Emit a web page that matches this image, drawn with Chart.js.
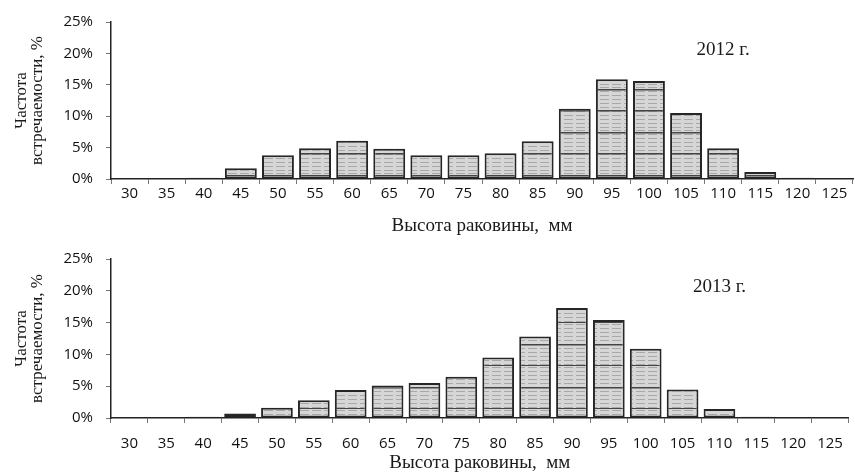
<!DOCTYPE html>
<html lang="ru">
<head>
<meta charset="utf-8">
<script src="https://cdn.jsdelivr.net/npm/chart.js@4.4.1/dist/chart.umd.min.js"></script>
<style>
  html, body { margin: 0; padding: 0; background: #fff; }
  .panel { width: 855px; height: 237px; position: relative; }
</style>
</head>
<body>
<div class="panel"><canvas id="chart2012" width="855" height="237"></canvas></div>
<div class="panel"><canvas id="chart2013" width="855" height="237"></canvas></div>
<script>
// shell height classes, mm
const heightClasses = ['30', '35', '40', '45', '50', '55', '60', '65', '70', '75',
  '80', '85', '90', '95', '100', '105', '110', '115', '120', '125'];

// frequency of occurrence, %
const freq2012 = [0, 0, 0.2, 1.7, 3.8, 4.9, 6.1, 4.8, 3.8, 3.8,
  4.1, 6.0, 11.2, 15.9, 15.6, 10.5, 4.9, 1.1, 0.2, 0];
const freq2013 = [0, 0.05, 0.2, 0.7, 1.6, 2.8, 4.4, 5.1, 5.5, 6.5,
  9.5, 12.8, 17.3, 15.4, 10.9, 4.5, 1.4, 0.2, 0, 0];

const yTicks = [0, 5, 10, 15, 20, 25];
const xTitle = 'Высота раковины,  мм';
const yTitle = ['Частота', 'встречаемости, %'];

// grey fill with horizontal streaks, like the scanned print
function makeHatch(ctx, offset) {
  const c = document.createElement('canvas');
  c.width = 12;
  c.height = 43;
  const g = c.getContext('2d');
  g.fillStyle = '#d6d6d6';
  g.fillRect(0, 0, 12, 43);
  g.fillStyle = '#a8a8a8';
  for (let y = 1; y < 43; y += 4) g.fillRect(0, y, 9, 1);
  g.fillStyle = '#444';
  g.fillRect(0, offset, 12, 1.5);
  g.fillRect(0, (offset + 21) % 43, 12, 1.5);
  return ctx.createPattern(c, 'repeat');
}

const yearLabel = {
  id: 'yearLabel',
  afterDatasetsDraw(chart, args, opts) {
    const { ctx, scales } = chart;
    ctx.save();
    ctx.font = '19px "Liberation Serif", serif';
    ctx.fillStyle = '#1a1a1a';
    ctx.textAlign = 'center';
    ctx.textBaseline = 'middle';
    const x = scales.x.getPixelForValue(heightClasses.indexOf(opts.at));
    const y = scales.y.getPixelForValue(opts.level);
    ctx.fillText(opts.text, x, y);
    ctx.restore();
  },
};

function buildChart(id, values, year, layout) {
  const ctx = document.getElementById(id).getContext('2d');
  return new Chart(ctx, {
    type: 'bar',
    data: {
      labels: heightClasses,
      datasets: [{
        data: values,
        backgroundColor: makeHatch(ctx, layout.hatch),
        borderColor: '#262626',
        borderWidth: 2,
        borderSkipped: false,
        barPercentage: 0.86,
        categoryPercentage: 1,
      }],
    },
    options: {
      responsive: false,
      animation: false,
      layout: { padding: { top: layout.top, right: 2, bottom: 0, left: 0 } },
      plugins: {
        legend: { display: false },
        tooltip: { enabled: false },
        yearLabel: { text: year, at: '110', level: 20.6 },
      },
      scales: {
        x: {
          afterFit: (scale) => { scale.height = 237 - layout.top - 160; },
          grid: {
            offset: true,
            drawOnChartArea: false,
            tickLength: 5,
            color: '#777',
          },
          border: { display: true, color: '#222', width: 1.5 },
          ticks: {
            color: '#111',
            padding: layout.tickPad,
            font: { family: '"Open Sans", sans-serif', size: 15 },
          },
          title: {
            display: true,
            text: xTitle,
            color: '#1a1a1a',
            font: { family: '"Liberation Serif", serif', size: 19 },
            padding: { top: 0, bottom: 0 },
          },
        },
        y: {
          min: 0,
          max: 25,
          afterFit: (scale) => { scale.width = 111; },
          afterBuildTicks: (scale) => { scale.ticks = yTicks.map((v) => ({ value: v })); },
          grid: {
            drawOnChartArea: false,
            tickLength: 5,
            color: '#777',
          },
          border: { display: true, color: '#222', width: 1.5 },
          ticks: {
            color: '#111',
            padding: 13,
            font: { family: '"Open Sans", sans-serif', size: 15 },
            callback: (v) => v + '%',
          },
          title: {
            display: true,
            text: yTitle,
            color: '#1a1a1a',
            font: { family: '"Liberation Serif", serif', size: 17, lineHeight: '16px' },
            padding: { top: 14, bottom: 0 },
          },
        },
      },
    },
    plugins: [yearLabel],
  });
}

buildChart('chart2012', freq2012, '2012 г.', { top: 19, tickPad: 1, hatch: 3 });
buildChart('chart2013', freq2013, '2013 г.', { top: 21, tickPad: 12, hatch: 21 });
</script>
</body>
</html>
